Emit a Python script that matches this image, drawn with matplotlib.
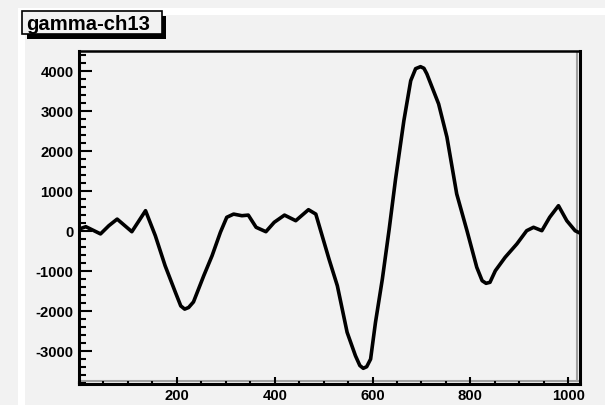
import matplotlib
matplotlib.use('Agg')
import matplotlib.pyplot as plt
from matplotlib.patches import Rectangle
from matplotlib.lines import Line2D
from matplotlib.ticker import MultipleLocator

# waveform (channel vs amplitude)
channel = [0, 14, 44, 61, 78, 108, 136, 156, 176, 197, 208, 216, 224, 234, 255,
           272, 289, 302, 316, 333, 346, 362, 382, 399, 420, 443, 469, 484, 511,
           528, 548, 565, 574, 581, 588, 596, 606, 620, 634, 647, 664, 678, 688,
           698, 705, 711, 735, 752, 772, 793, 813, 824, 832, 840, 851, 871, 895,
           915, 929, 946, 962, 980, 997, 1014, 1024]
amplitude = [40, 100, -80, 125, 290, -25, 500, -125, -875, -1540, -1880, -1960,
             -1920, -1780, -1125, -625, -40, 335, 415, 375, 390, 85, -25, 210,
             390, 250, 525, 415, -710, -1375, -2540, -3125, -3370, -3440, -3400,
             -3210, -2290, -1210, 40, 1290, 2750, 3750, 4050, 4100, 4060, 3920,
             3170, 2340, 920, 0, -915, -1250, -1315, -1290, -1000, -665, -330,
             0, 85, 0, 335, 625, 250, 0, -60]

title = 'gamma-ch13'
xlim = (0, 1024)
ylim = (-3832, 4492)

W, H = 605, 406
bg = '#f2f2f2'
plt.rcParams['font.family'] = ['Liberation Sans', 'DejaVu Sans']
plt.rcParams['font.weight'] = 'bold'
plt.rcParams['axes.unicode_minus'] = False

fig = plt.figure(figsize=(W / 100, H / 100), dpi=100, facecolor=bg)


def px(x, y):
    # pixel coords (from top-left) -> figure fraction
    return x / W, 1 - y / H


def fig_rect(x0, y0, x1, y1, **kw):
    fx, fy = px(x0, y1)
    r = Rectangle((fx, fy), (x1 - x0) / W, (y1 - y0) / H,
                  transform=fig.transFigure, **kw)
    fig.patches.append(r)


# pad with white bevel (behind the axes)
fig_rect(18, 9, W, H, facecolor='white', edgecolor='none', zorder=-3)
fig_rect(25, 16, W, H, facecolor=bg, edgecolor='none', zorder=-2)

# title box with shadow
fig_rect(27, 17, 166, 40, facecolor='black', edgecolor='none', zorder=5)
fig_rect(22, 12, 162, 35, facecolor=bg, edgecolor='black', linewidth=1.2, zorder=6)
tx, ty = px(26, 30.5)
fig.text(tx, ty, title, fontsize=14.6, fontweight='bold', va='baseline', ha='left',
         zorder=7)

left, top = px(79, 52)
right, bottom = px(580, 385)
ax = fig.add_axes([left, bottom, right - left, top - bottom])
ax.set_facecolor(bg)

ax.plot(channel, amplitude, color='black', linewidth=2.6,
        solid_joinstyle='round', solid_capstyle='round')

ax.set_xlim(*xlim)
ax.set_ylim(*ylim)

ax.xaxis.set_major_locator(MultipleLocator(200))
ax.xaxis.set_minor_locator(MultipleLocator(50))
ax.yaxis.set_major_locator(MultipleLocator(1000))
ax.yaxis.set_minor_locator(MultipleLocator(200))

ax.tick_params(axis='x', which='major', direction='in', length=5, width=1.5,
               labelsize=10.7, pad=3, top=False)
ax.tick_params(axis='x', which='minor', direction='in', length=2.5, width=1.5, top=False)
ax.tick_params(axis='y', which='major', direction='in', length=9.5, width=1.5,
               labelsize=10.7, pad=4, right=False)
ax.tick_params(axis='y', which='minor', direction='in', length=4.8, width=1.5, right=False)

ax.set_xticks([200, 400, 600, 800, 1000])
for lab in ax.get_xticklabels() + ax.get_yticklabels():
    lab.set_fontweight('bold')

for name, sp in ax.spines.items():
    sp.set_linewidth(2.2 if name != 'top' else 1.8)
    sp.set_color('black')

# inner shadow of the frame (bottom and right)
ax.add_line(Line2D([0.003, 0.996], [0.008, 0.008], transform=ax.transAxes,
                   color='#a0a0a0', linewidth=1.5, zorder=1))
ax.add_line(Line2D([0.995, 0.995], [0.008, 0.997], transform=ax.transAxes,
                   color='#a0a0a0', linewidth=1.5, zorder=1))

fig.savefig('out.png', dpi=100, facecolor=bg)
